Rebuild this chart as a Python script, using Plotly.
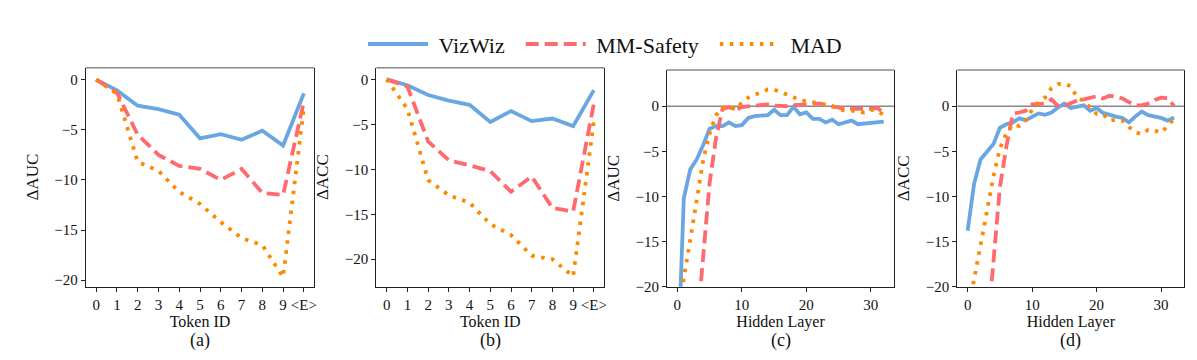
import plotly.graph_objects as go
from plotly.subplots import make_subplots

# ---------------- data ----------------
token_ids = list(range(11))
token_labels = ["0", "1", "2", "3", "4", "5", "6", "7", "8", "9", "&lt;E&gt;"]

auc_vizwiz_tok = [0, -1.07, -2.6, -2.93, -3.5, -5.85, -5.43, -6.0, -5.1, -6.57, -1.37]
auc_mm_tok = [0, -1.3, -5.5, -7.5, -8.6, -8.9, -10.0, -8.9, -11.3, -11.5, -2.2]
auc_mad_tok = [0, -1.4, -8.2, -9.1, -11.2, -12.4, -14.2, -15.8, -16.5, -19.7, -2.8]

acc_vizwiz_tok = [0, -0.65, -1.75, -2.36, -2.84, -4.73, -3.53, -4.65, -4.36, -5.2, -1.2]
acc_mm_tok = [0, -0.8, -6.9, -9.0, -9.56, -10.2, -12.5, -10.8, -14.3, -14.7, -2.7]
acc_mad_tok = [0, -3.3, -11.2, -12.9, -13.7, -16.1, -17.3, -19.6, -20.0, -21.9, -4.7]

layers = list(range(33))

auc_vizwiz_layer = [-30, -10.2, -7.0, -5.9, -4.3, -2.5, -2.2, -2.2, -1.8, -2.2, -2.1,
                    -1.3, -1.1, -1.0, -1.0, -0.4, -1.0, -1.0, -0.07, -0.9, -0.7,
                    -1.4, -1.4, -1.8, -1.5, -2.0, -1.8, -1.6, -2.0, -1.9, -1.8, -1.7, -1.7]
auc_mm_layer = [-36, -33, -29, -24.9, -16.7, -8.5, -3.5, -0.3, -0.1, -0.45, -0.1,
                0.0, 0.1, 0.15, 0.2, 0.05, 0.0, 0.0, 0.1, 0.15, 0.2,
                0.3, 0.3, 0.15, 0.0, -0.2, -0.3, -0.3, -0.3, -0.4, -0.3, -0.2, -0.7]
auc_mad_layer = [-25, -19.0, -14.8, -10.5, -6.0, -3.0, -1.0, -0.2, 0.0, -0.4, 0.4,
                 0.95, 1.3, 1.5, 1.85, 1.85, 1.6, 1.3, 1.0, 0.65, 0.6,
                 0.45, 0.3, 0.2, 0.0, -0.3, -0.5, -0.5, -0.6, -0.7, -0.4, -0.5, -1.0]

acc_vizwiz_layer = [-13.8, -8.6, -5.9, -5.0, -4.2, -2.4, -2.0, -1.8, -1.35, -1.55, -1.2,
                    -0.8, -0.95, -0.7, -0.15, 0.3, -0.2, -0.05, 0.1, -0.5, -0.2,
                    -0.75, -1.0, -1.15, -1.3, -1.8, -1.15, -0.6, -1.0, -1.15, -1.3, -1.6, -1.25]
acc_mm_layer = [-36, -33, -30, -25.5, -16.8, -9.0, -4.5, -0.85, -0.7, -0.5, 0.2,
                0.3, 0.3, 0.75, 0.05, 0.05, 0.4, 0.65, 0.75, 0.95, 1.1,
                0.85, 1.15, 1.05, 0.85, 0.45, 0.1, 0.1, 0.3, 0.7, 0.95, 0.9, 0.0]
acc_mad_layer = [-23, -19.3, -15.3, -11.6, -7.8, -4.7, -3.0, -2.0, -2.2, -1.6, -0.4,
                 0.4, 0.95, 2.0, 2.45, 2.5, 2.2, 0.95, 0.6, -0.15, -0.85,
                 -0.9, -1.6, -1.5, -1.6, -2.3, -2.9, -3.1, -2.6, -2.7, -2.95, -2.2, -1.4]

series_names = ["VizWiz", "MM-Safety", "MAD"]
panel_labels = ["(a)", "(b)", "(c)", "(d)"]
y_titles = ["ΔAUC", "ΔACC", "ΔAUC", "ΔACC"]
x_titles = ["Token ID", "Token ID", "Hidden Layer", "Hidden Layer"]

# ---------------- style ----------------
W, H = 1197, 360
FONT = "Liberation Serif, Times New Roman, serif"
colors = ["#6AA6E2", "#FF6A6E", "#FF8800"]
dashes = ["solid", "13px,6px", "3.5px,6.5px"]
LW = 3.8
NB = "\u00a0"
legend_labels = [NB + series_names[0] + NB * 2,
                 NB + series_names[1] + NB * 2,
                 NB + series_names[2]]

# pixel boxes of the four panels (left, right, top, bottom)
boxes = [(78, 307, 61, 285), (369.3, 597.7, 61, 285),
         (660.7, 888.3, 63.5, 285), (951.7, 1179.3, 63.5, 285)]

fig = make_subplots(rows=1, cols=4)

panels = [
    (token_ids, [auc_vizwiz_tok, auc_mm_tok, auc_mad_tok]),
    (token_ids, [acc_vizwiz_tok, acc_mm_tok, acc_mad_tok]),
    (layers, [auc_vizwiz_layer, auc_mm_layer, auc_mad_layer]),
    (layers, [acc_vizwiz_layer, acc_mm_layer, acc_mad_layer]),
]

for p, (xs, ys_list) in enumerate(panels):
    for s, ys in enumerate(ys_list):
        fig.add_trace(go.Scatter(
            x=xs, y=ys, mode="lines", name=legend_labels[s],
            line=dict(color=colors[s], width=LW, dash=dashes[s]),
            showlegend=(p == 0), legendgroup=series_names[s],
        ), row=1, col=p + 1)

y_ranges = [[-20.65, 1.2], [-23.05, 1.3], [-20, 4], [-20, 4]]
x_ranges = [[-0.5, 10.5], [-0.5, 10.5], [-1.6, 33.6], [-1.6, 33.6]]

for p in range(4):
    l, r, t, b = boxes[p]
    xa = dict(domain=[l / W, r / W], range=x_ranges[p], showgrid=False, zeroline=False,
              showline=True, linecolor="#222", linewidth=1.2, mirror=False,
              ticks="outside", ticklen=4, tickcolor="#222",
              tickfont=dict(family=FONT, size=15, color="#111"),
              title=dict(text=x_titles[p], font=dict(family=FONT, size=16, color="#111"), standoff=4))
    if p < 2:
        xa.update(tickmode="array", tickvals=token_ids, ticktext=token_labels)
    else:
        xa.update(tickmode="array", tickvals=[0, 10, 20, 30])
    ya = dict(domain=[1 - b / H, 1 - t / H], range=y_ranges[p], showgrid=False, zeroline=False,
              showline=True, linecolor="#222", linewidth=1.2, mirror=True,
              ticks="outside", ticklen=4, tickcolor="#222",
              tickmode="array", tickvals=[0, -5, -10, -15, -20],
              tickfont=dict(family=FONT, size=15, color="#111"),
              title=dict(text=y_titles[p], font=dict(family=FONT, size=17, color="#111"), standoff=11))
    fig.layout["xaxis" + ("" if p == 0 else str(p + 1))].update(xa)
    fig.layout["yaxis" + ("" if p == 0 else str(p + 1))].update(ya)

    xref = "x" + ("" if p == 0 else str(p + 1))
    yref = "y" + ("" if p == 0 else str(p + 1))
    # top spine (grey)
    fig.add_shape(type="line", xref=xref + " domain", yref=yref + " domain",
                  x0=0, x1=1, y0=1, y1=1, line=dict(color="#888", width=1.5))
    if p >= 2:
        fig.add_shape(type="line", xref=xref + " domain", yref=yref,
                      x0=0, x1=1, y0=0, y1=0, line=dict(color="#888", width=1.5),
                      layer="below")
    fig.add_annotation(text=panel_labels[p], xref="paper", yref="paper",
                       x=(l + r) / 2 / W, y=1 - 340 / H, xanchor="center", yanchor="middle",
                       showarrow=False, font=dict(family=FONT, size=18, color="#111"))

fig.update_layout(
    width=W, height=H,
    margin=dict(l=0, r=0, t=0, b=0),
    paper_bgcolor="white", plot_bgcolor="white",
    legend=dict(orientation="h", x=0.5, xanchor="center", y=1 - 37 / H, yanchor="middle",
                font=dict(family=FONT, size=22, color="#111"), itemwidth=60,
                bgcolor="rgba(0,0,0,0)", tracegroupgap=0),
)

fig.write_html("out.html")
